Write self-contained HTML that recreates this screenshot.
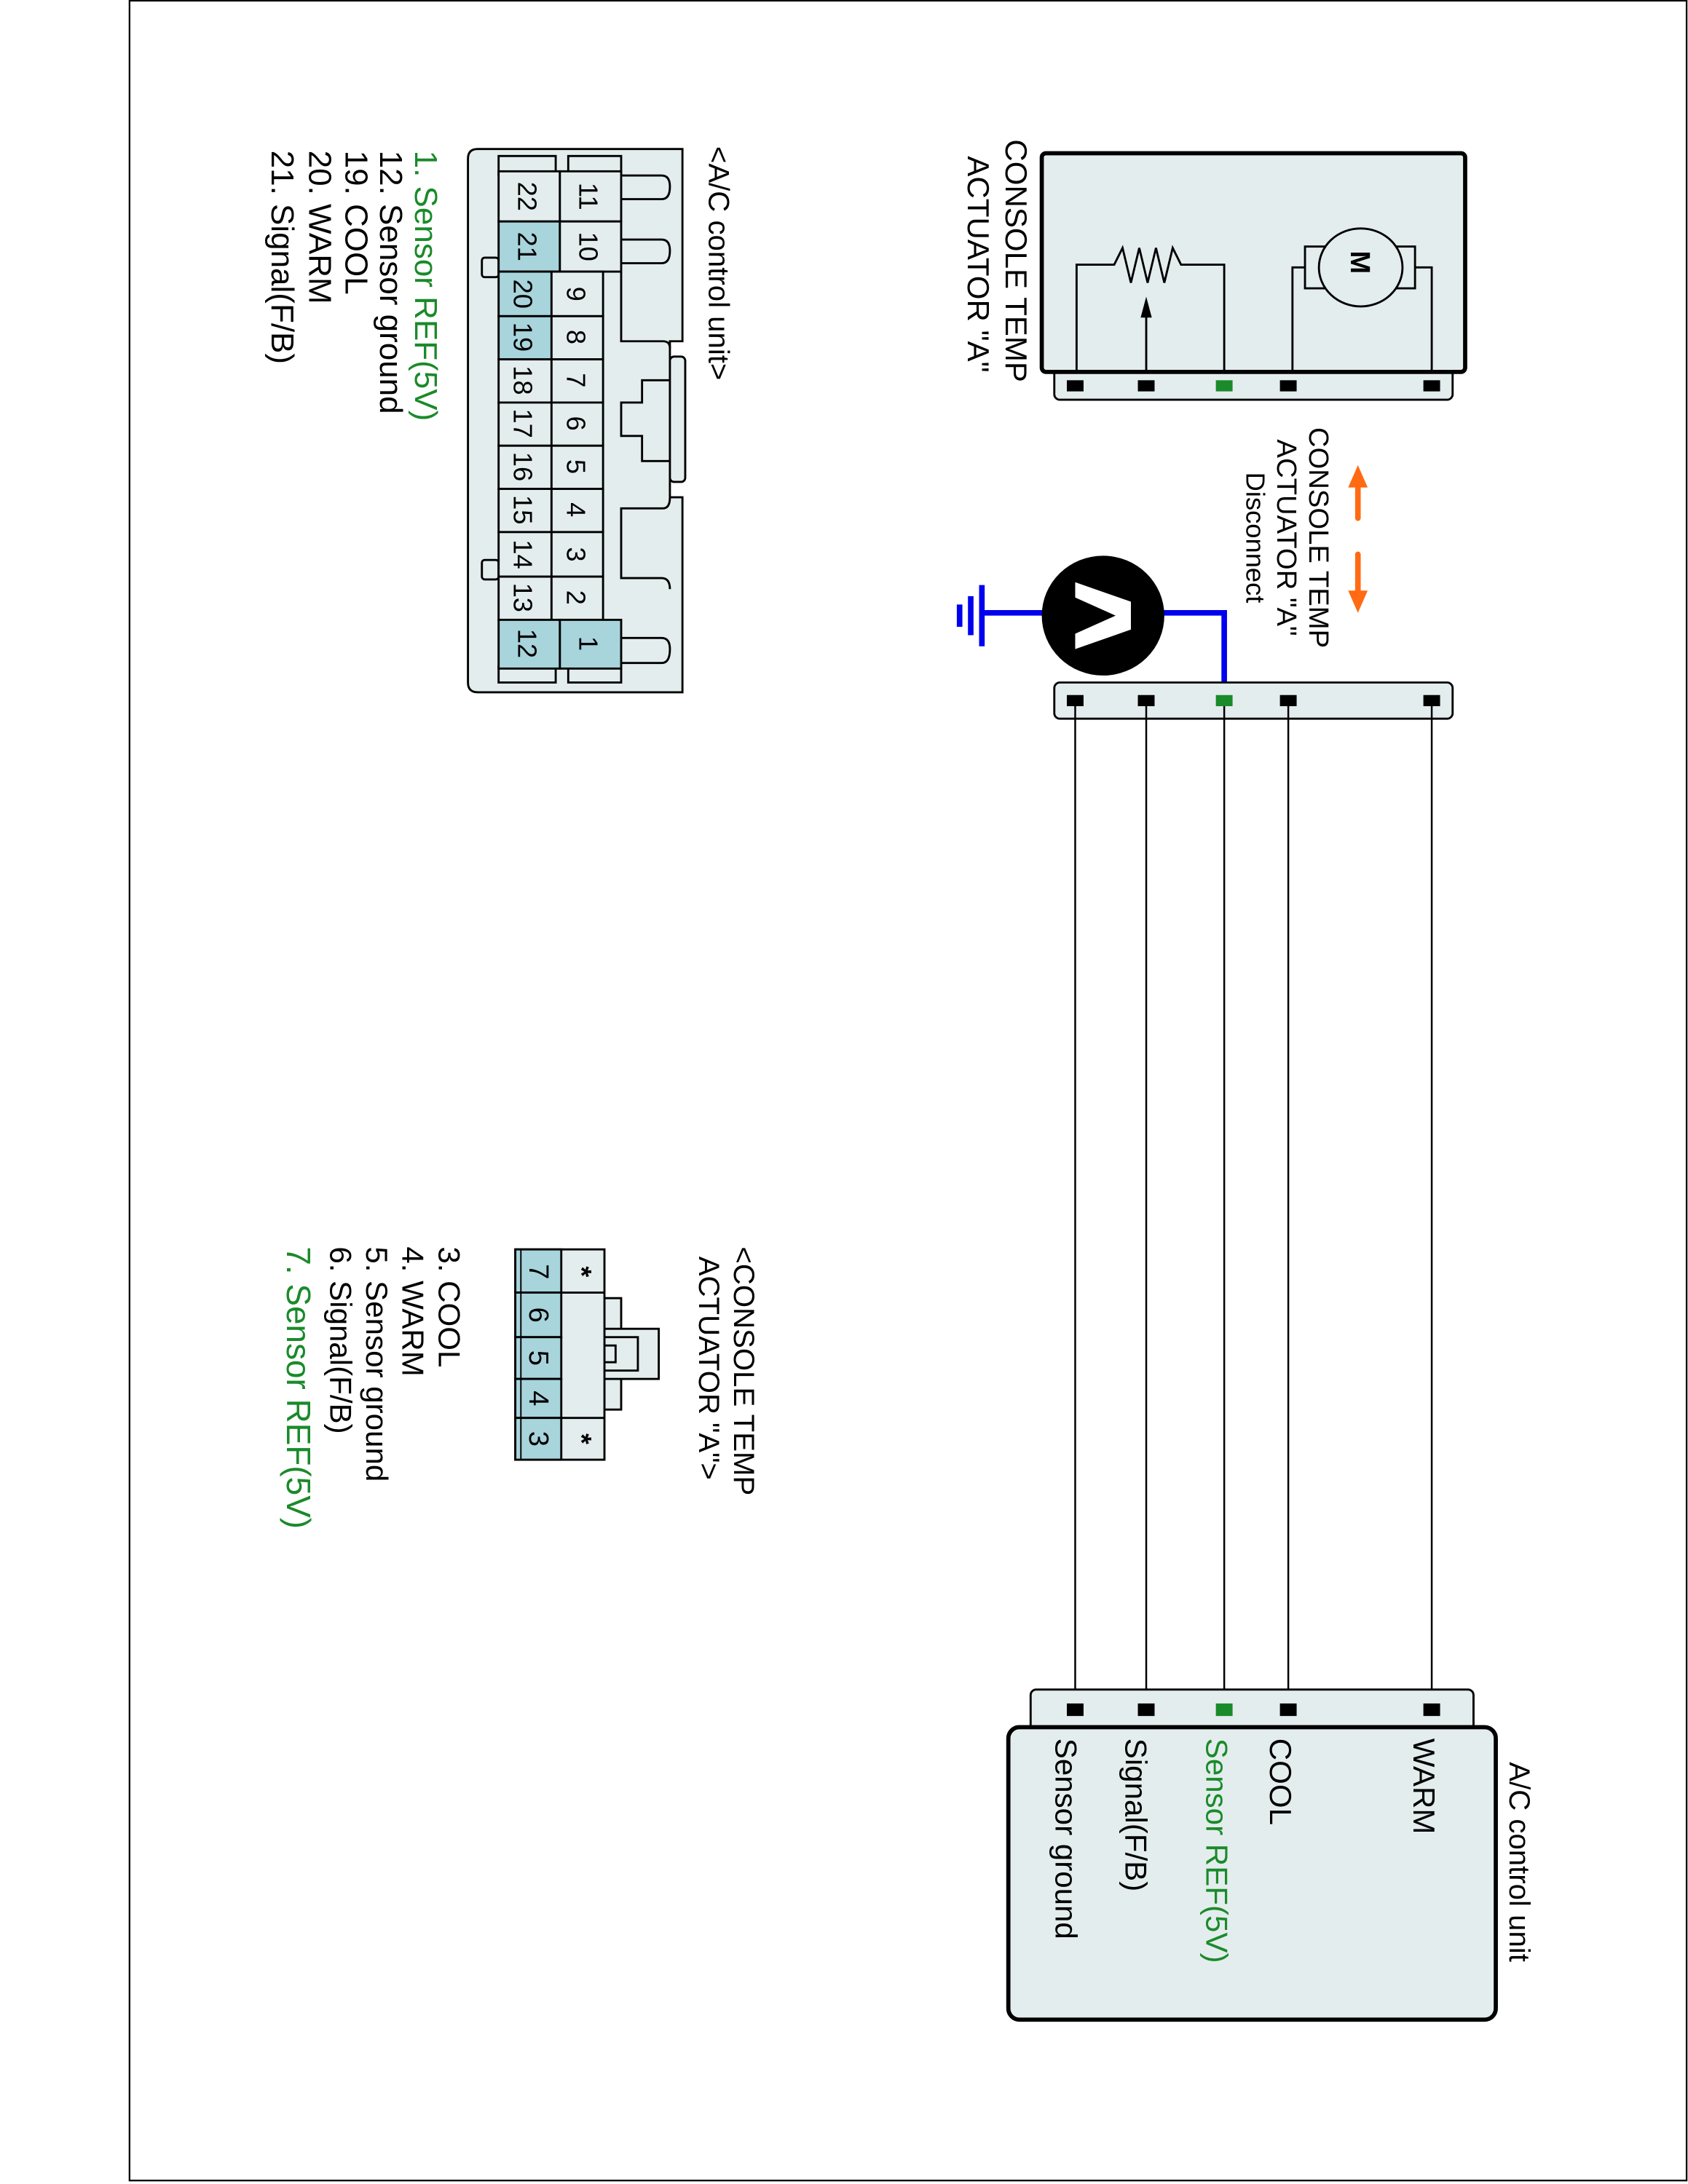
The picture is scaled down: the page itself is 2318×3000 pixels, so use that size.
<!DOCTYPE html>
<html><head><meta charset="utf-8"><style>
html,body{margin:0;padding:0;background:#fff}
svg{display:block}
text{font-family:"Liberation Sans",Arial,sans-serif}
</style></head><body>
<svg width="2318" height="3000" viewBox="0 0 1212 1568" preserveAspectRatio="none" xmlns="http://www.w3.org/2000/svg">
<rect x="0" y="0" width="1212" height="1568" fill="#fff"/>
<rect x="93" y="0.5" width="1118" height="1565" fill="none" stroke="#000" stroke-width="1.2"/>

<!-- Actuator box -->
<rect x="757" y="255" width="286" height="32" rx="4" fill="#e4eded" stroke="#000" stroke-width="1.5"/>
<rect x="748" y="110" width="304" height="157" rx="3" fill="#e4eded" stroke="#000" stroke-width="3"/>
<g stroke="#000" stroke-width="1.5" fill="none">
<polyline points="773,267 773,190 800,190 806,178 812,203 818,178 824,203 830,178 836,203 842,178 848,190 879,190 879,267"/>
<line x1="823" y1="267" x2="823" y2="225"/>
<polyline points="928,267 928,192 937,192"/>
<polyline points="1016,192 1028,192 1028,267"/>
<rect x="937" y="177" width="79" height="30" fill="#e4eded"/>
<ellipse cx="977" cy="192" rx="30" ry="28" fill="#e4eded"/>
</g>
<polygon points="823,213 819,228 827,228" fill="#000"/>
<text transform="translate(970,180) rotate(90)" font-size="20" font-weight="bold">M</text>
<g fill="#000"><rect x="766" y="273" width="12" height="8"/><rect x="817" y="273" width="12" height="8"/><rect x="919" y="273" width="12" height="8"/><rect x="1022" y="273" width="12" height="8"/></g>
<rect x="873" y="273" width="12" height="8" fill="#1a8a2a"/>
<text transform="translate(722,100) rotate(90)" font-size="22">CONSOLE TEMP</text>
<text transform="translate(695,112) rotate(90)" font-size="22">ACTUATOR "A"</text>

<!-- Disconnect label -->
<text transform="translate(940,386) rotate(90)" font-size="20" text-anchor="middle">CONSOLE TEMP</text>
<text transform="translate(917,386) rotate(90)" font-size="20" text-anchor="middle">ACTUATOR "A"</text>
<text transform="translate(895,386) rotate(90)" font-size="19" text-anchor="middle">Disconnect</text>
<g fill="#ff6a13" stroke="#ff6a13">
<line x1="975" y1="348" x2="975" y2="372" stroke-width="4" stroke-linecap="round"/>
<polygon points="975,334 968,350 982,350" stroke="none"/>
<line x1="975" y1="398" x2="975" y2="424" stroke-width="4" stroke-linecap="round"/>
<polygon points="975,440 968,424 982,424" stroke="none"/>
</g>

<!-- Voltmeter -->
<g stroke="#0000ee" stroke-width="4" fill="none">
<polyline points="835,440 879,440 879,503"/>
<line x1="750" y1="440" x2="705" y2="440"/>
<line x1="705" y1="420" x2="705" y2="464"/>
<line x1="697" y1="428" x2="697" y2="456"/>
<line x1="689" y1="434" x2="689" y2="450"/>
</g>
<ellipse cx="792" cy="442" rx="44" ry="43" fill="#000"/>
<polygon points="772,418 812,432 812,452 772,466 772,455 801,442 772,429" fill="#fff"/>

<!-- Middle strip -->
<rect x="757" y="490" width="286" height="26" rx="4" fill="#e4eded" stroke="#000" stroke-width="1.5"/>
<g stroke="#000" stroke-width="1.3">
<line x1="772" y1="503" x2="772" y2="1227"/><line x1="823" y1="503" x2="823" y2="1227"/>
<line x1="879" y1="503" x2="879" y2="1227"/><line x1="925" y1="503" x2="925" y2="1227"/>
<line x1="1028" y1="503" x2="1028" y2="1227"/>
</g>
<g fill="#000"><rect x="766" y="499" width="12" height="8"/><rect x="817" y="499" width="12" height="8"/><rect x="919" y="499" width="12" height="8"/><rect x="1022" y="499" width="12" height="8"/></g>
<rect x="873" y="499" width="12" height="8" fill="#1a8a2a"/>

<!-- A/C control unit box -->
<rect x="740" y="1213" width="318" height="36" rx="4" fill="#e4eded" stroke="#000" stroke-width="1.5"/>
<rect x="724" y="1240" width="350" height="210" rx="8" fill="#e4eded" stroke="#000" stroke-width="3"/>
<g fill="#000"><rect x="766" y="1223" width="12" height="9"/><rect x="817" y="1223" width="12" height="9"/><rect x="919" y="1223" width="12" height="9"/><rect x="1022" y="1223" width="12" height="9"/></g>
<rect x="873" y="1223" width="12" height="9" fill="#1a8a2a"/>
<text transform="translate(1015,1248) rotate(90)" font-size="22">WARM</text>
<text transform="translate(912,1248) rotate(90)" font-size="22">COOL</text>
<text transform="translate(866,1248) rotate(90)" font-size="22" fill="#1a8a2a">Sensor REF(5V)</text>
<text transform="translate(808,1248) rotate(90)" font-size="22">Signal(F/B)</text>
<text transform="translate(758,1248) rotate(90)" font-size="22">Sensor ground</text>
<text transform="translate(1084,1265) rotate(90)" font-size="21">A/C control unit</text>

<!-- Left connector A/C control unit -->
<path d="M343,107 H490 V245 H481 V357 H490 V497 H343 Q336,497 336,490 V114 Q336,107 343,107 Z" fill="#e4eded" stroke="#000" stroke-width="1.5"/>
<rect x="481" y="256" width="11" height="90" rx="3" fill="#e4eded" stroke="#000" stroke-width="1.5"/>
<g fill="#e4eded" stroke="#000" stroke-width="1.5">
<rect x="346" y="185" width="12" height="14" rx="2"/>
<rect x="346" y="402" width="12" height="14" rx="2"/>
<rect x="358" y="112" width="41" height="14"/>
<rect x="408" y="112" width="38" height="14"/>
<rect x="358" y="478" width="41" height="12"/>
<rect x="408" y="478" width="38" height="12"/>
</g>
<g fill="none" stroke="#000" stroke-width="1.5">
<path d="M446,126 H475 Q481,126 481,134 Q481,143 475,143 H446"/>
<path d="M446,172 H475 Q481,172 481,180 Q481,189 475,189 H446"/>
<path d="M446,458 H475 Q481,458 481,466 Q481,476 475,476 H446"/>
<path d="M446,195 V245 H476 Q481,245 481,250"/>
<path d="M481,273 H461 V289 H446 V313 H461 V331 H481"/>
<path d="M481,357 Q481,365 476,365 H446 V415 H475 Q481,415 481,423"/>
</g>
<g stroke="#000" stroke-width="1.5">
<rect x="358" y="123" width="44" height="36" fill="#e4eded"/>
<rect x="402" y="123" width="44" height="36" fill="#e4eded"/>
<rect x="358" y="159" width="44" height="36" fill="#a8d4dc"/>
<rect x="402" y="159" width="44" height="36" fill="#e4eded"/>
<rect x="358" y="195" width="38" height="32" fill="#a8d4dc"/>
<rect x="396" y="195" width="37" height="32" fill="#e4eded"/>
<rect x="358" y="227" width="38" height="31" fill="#a8d4dc"/>
<rect x="396" y="227" width="37" height="31" fill="#e4eded"/>
<rect x="358" y="258" width="38" height="31" fill="#e4eded"/><rect x="396" y="258" width="37" height="31" fill="#e4eded"/>
<rect x="358" y="289" width="38" height="31" fill="#e4eded"/><rect x="396" y="289" width="37" height="31" fill="#e4eded"/>
<rect x="358" y="320" width="38" height="31" fill="#e4eded"/><rect x="396" y="320" width="37" height="31" fill="#e4eded"/>
<rect x="358" y="351" width="38" height="31" fill="#e4eded"/><rect x="396" y="351" width="37" height="31" fill="#e4eded"/>
<rect x="358" y="382" width="38" height="32" fill="#e4eded"/><rect x="396" y="382" width="37" height="32" fill="#e4eded"/>
<rect x="358" y="414" width="38" height="31" fill="#e4eded"/><rect x="396" y="414" width="37" height="31" fill="#e4eded"/>
<rect x="358" y="445" width="44" height="35" fill="#a8d4dc"/>
<rect x="402" y="445" width="44" height="35" fill="#a8d4dc"/>
</g>
<g font-size="19" text-anchor="middle">
<text transform="translate(416,141) rotate(90)">11</text>
<text transform="translate(372,141) rotate(90)">22</text>
<text transform="translate(416,177) rotate(90)">10</text>
<text transform="translate(372,177) rotate(90)">21</text>
<text transform="translate(407,211) rotate(90)">9</text>
<text transform="translate(369,211) rotate(90)">20</text>
<text transform="translate(407,242) rotate(90)">8</text>
<text transform="translate(369,242) rotate(90)">19</text>
<text transform="translate(407,273) rotate(90)">7</text>
<text transform="translate(369,273) rotate(90)">18</text>
<text transform="translate(407,304) rotate(90)">6</text>
<text transform="translate(369,304) rotate(90)">17</text>
<text transform="translate(407,335) rotate(90)">5</text>
<text transform="translate(369,335) rotate(90)">16</text>
<text transform="translate(407,366) rotate(90)">4</text>
<text transform="translate(369,366) rotate(90)">15</text>
<text transform="translate(407,398) rotate(90)">3</text>
<text transform="translate(369,398) rotate(90)">14</text>
<text transform="translate(407,429) rotate(90)">2</text>
<text transform="translate(369,429) rotate(90)">13</text>
<text transform="translate(416,462) rotate(90)">1</text>
<text transform="translate(372,462) rotate(90)">12</text>
</g>
<text transform="translate(509,105) rotate(90)" font-size="21">&lt;A/C control unit&gt;</text>
<text transform="translate(298,108) rotate(90)" font-size="23" fill="#1a8a2a">1. Sensor REF(5V)</text>
<text transform="translate(273,108) rotate(90)" font-size="23">12. Sensor ground</text>
<text transform="translate(248,108) rotate(90)" font-size="23">19. COOL</text>
<text transform="translate(222,108) rotate(90)" font-size="23">20. WARM</text>
<text transform="translate(195,108) rotate(90)" font-size="23">21. Signal(F/B)</text>

<!-- Small connector -->
<g stroke="#000" stroke-width="1.5">
<rect x="434" y="932" width="12" height="80" fill="#e4eded"/>
<rect x="434" y="954" width="39" height="36" fill="#e4eded"/>
<rect x="434" y="960" width="24" height="24" fill="#e4eded"/>
<rect x="434" y="966" width="8" height="12" fill="#e4eded"/>
<rect x="370" y="897" width="64" height="151" fill="#e4eded"/>
<rect x="370" y="897" width="33" height="31" fill="#a8d4dc"/>
<rect x="370" y="928" width="33" height="32" fill="#a8d4dc"/>
<rect x="370" y="960" width="33" height="30" fill="#a8d4dc"/>
<rect x="370" y="990" width="33" height="28" fill="#a8d4dc"/>
<rect x="370" y="1018" width="33" height="30" fill="#a8d4dc"/>
<line x1="403" y1="928" x2="434" y2="928"/>
<line x1="403" y1="1018" x2="434" y2="1018"/>
<line x1="374" y1="897" x2="374" y2="1048" stroke-width="1"/>
</g>
<g font-size="20" text-anchor="middle">
<text transform="translate(380,913) rotate(90)">7</text>
<text transform="translate(380,944) rotate(90)">6</text>
<text transform="translate(380,975) rotate(90)">5</text>
<text transform="translate(380,1004) rotate(90)">4</text>
<text transform="translate(380,1033) rotate(90)">3</text>
<text transform="translate(411,913) rotate(90)" font-weight="bold">*</text>
<text transform="translate(411,1033) rotate(90)" font-weight="bold">*</text>
</g>
<text transform="translate(527,895) rotate(90)" font-size="21">&lt;CONSOLE TEMP</text>
<text transform="translate(502,902) rotate(90)" font-size="21">ACTUATOR "A"&gt;</text>
<text transform="translate(315,895) rotate(90)" font-size="22">3. COOL</text>
<text transform="translate(289,895) rotate(90)" font-size="22">4. WARM</text>
<text transform="translate(263,895) rotate(90)" font-size="22">5. Sensor ground</text>
<text transform="translate(237,895) rotate(90)" font-size="22">6. Signal(F/B)</text>
<text transform="translate(206,895) rotate(90)" font-size="24" fill="#1a8a2a">7. Sensor REF(5V)</text>
</svg>
</body></html>
